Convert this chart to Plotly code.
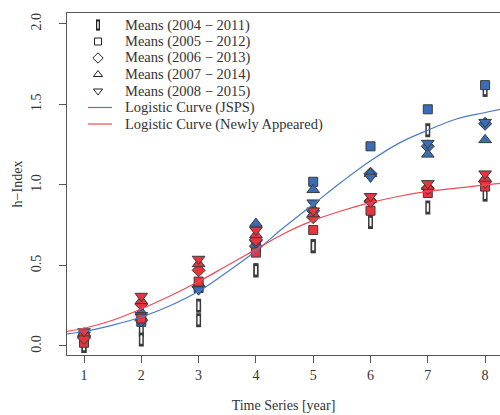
import plotly.graph_objects as go

years = [1, 2, 3, 4, 5, 6, 7, 8]
legend_names = ["Means (2004 − 2011)", "Means (2005 − 2012)", "Means (2006 − 2013)",
                "Means (2007 − 2014)", "Means (2008 − 2015)",
                "Logistic Curve (JSPS)", "Logistic Curve (Newly Appeared)"]

# JSPS (blue)
jsps_0411 = [0.00, 0.10, 0.25, 0.47, 0.62, 0.77, 1.34, 1.59]
jsps_0512 = [0.05, 0.15, 0.36, 0.61, 1.02, 1.24, 1.47, 1.62]
jsps_0613 = [0.06, 0.16, 0.37, 0.62, 0.84, 1.07, 1.24, 1.38]
jsps_0714 = [0.07, 0.21, 0.38, 0.76, 0.97, 1.07, 1.19, 1.28]
jsps_0815 = [0.07, 0.19, 0.35, 0.64, 0.89, 1.05, 1.26, 1.39]

# Newly appeared (red)
new_0411 = [0.00, 0.04, 0.16, 0.47, 0.62, 0.77, 0.86, 0.94]
new_0512 = [0.02, 0.17, 0.40, 0.58, 0.72, 0.84, 0.95, 0.99]
new_0613 = [0.05, 0.26, 0.47, 0.66, 0.80, 0.90, 0.98, 1.02]
new_0714 = [0.08, 0.28, 0.51, 0.69, 0.82, 0.91, 0.99, 1.04]
new_0815 = [0.09, 0.31, 0.54, 0.72, 0.84, 0.93, 1.01, 1.07]

# Logistic curves
curve_x = [0.7, 1.0, 1.5, 2.0, 2.5, 3.0, 3.5, 4.0, 4.5, 5.0, 5.5, 6.0, 6.5, 7.0, 7.5, 8.0, 8.26]
curve_jsps = [0.075, 0.09, 0.13, 0.18, 0.25, 0.34, 0.46, 0.59, 0.74, 0.88, 1.02, 1.15, 1.26, 1.34, 1.41, 1.45, 1.47]
curve_new = [0.09, 0.11, 0.16, 0.23, 0.31, 0.40, 0.50, 0.60, 0.70, 0.78, 0.84, 0.89, 0.93, 0.96, 0.98, 1.00, 1.01]

BLUE = "#3a6db8"
RED = "#e8343f"
BLUE_LINE = "#4a7cc4"
RED_LINE = "#f04a55"
EDGE = "#3a3a3a"
FONT = "Liberation Serif"

fig = go.Figure()

# white narrow rectangles (2004-2011)
for vals in (jsps_0411, new_0411):
    fig.add_trace(go.Scatter(x=years, y=vals, mode="markers", showlegend=False,
                             marker=dict(symbol="line-ns", size=10, line=dict(color=EDGE, width=5))))
    fig.add_trace(go.Scatter(x=years, y=vals, mode="markers", showlegend=False,
                             marker=dict(symbol="line-ns", size=6, line=dict(color="white", width=2))))

symbols = ["square", "diamond", "triangle-up", "triangle-down"]
sizes = [9, 10, 11, 11]
for color, group in ((BLUE, [jsps_0512, jsps_0613, jsps_0714, jsps_0815]),
                     (RED, [new_0512, new_0613, new_0714, new_0815])):
    for sym, sz, vals in zip(symbols, sizes, group):
        fig.add_trace(go.Scatter(x=years, y=vals, mode="markers", showlegend=False,
                                 marker=dict(symbol=sym, size=sz, color=color,
                                             line=dict(color=EDGE, width=1))))

fig.add_trace(go.Scatter(x=curve_x, y=curve_jsps, mode="lines", line_shape="spline",
                         line=dict(color=BLUE_LINE, width=1.2), showlegend=False))
fig.add_trace(go.Scatter(x=curve_x, y=curve_new, mode="lines", line_shape="spline",
                         line=dict(color=RED_LINE, width=1.2), showlegend=False))

# ---- hand-made legend on a hidden overlay axis (0..1 in both directions) ----
PLOT_L, PLOT_R, PLOT_T, PLOT_B = 67, 500, 13, 355
def fx(px):
    return (px - PLOT_L) / (PLOT_R - PLOT_L)
def fy(py):
    return 1 - (py - PLOT_T) / (PLOT_B - PLOT_T)

row_y = [fy(25 + 16.5 * i) for i in range(len(legend_names))]
sym_x = fx(98)
txt_x = fx(123)

# entry 1: narrow rectangle
fig.add_trace(go.Scatter(x=[sym_x], y=[row_y[0]], xaxis="x2", yaxis="y2", mode="markers",
                         showlegend=False, hoverinfo="skip",
                         marker=dict(symbol="line-ns", size=8, line=dict(color="#222", width=4))))
fig.add_trace(go.Scatter(x=[sym_x], y=[row_y[0]], xaxis="x2", yaxis="y2", mode="markers",
                         showlegend=False, hoverinfo="skip",
                         marker=dict(symbol="line-ns", size=5, line=dict(color="white", width=1.5))))
for i, (sym, sz) in enumerate(zip(["square-open", "diamond-open", "triangle-up-open", "triangle-down-open"],
                                  [7, 8, 8, 8])):
    fig.add_trace(go.Scatter(x=[sym_x], y=[row_y[i + 1]], xaxis="x2", yaxis="y2", mode="markers",
                             showlegend=False, hoverinfo="skip",
                             marker=dict(symbol=sym, size=sz, color="#222", line=dict(width=1))))
for i, col in ((5, BLUE_LINE), (6, RED_LINE)):
    fig.add_trace(go.Scatter(x=[fx(88), fx(112)], y=[row_y[i], row_y[i]], xaxis="x2", yaxis="y2",
                             mode="lines", showlegend=False, hoverinfo="skip",
                             line=dict(color=col, width=1.2)))
for i, name in enumerate(legend_names):
    fig.add_annotation(x=txt_x, y=row_y[i], xref="paper", yref="paper", text=name,
                       showarrow=False, xanchor="left", yanchor="middle",
                       font=dict(family=FONT, size=14.5, color="#333"))

fig.update_layout(
    width=500, height=415,
    margin=dict(l=PLOT_L, r=0, t=PLOT_T, b=415 - PLOT_B),
    plot_bgcolor="white", paper_bgcolor="white",
    font=dict(family=FONT, size=13, color="#333"),
    showlegend=False,
    xaxis=dict(range=[0.703, 8.26], tickvals=years, ticks="outside", ticklen=7,
               showgrid=False, zeroline=False, showline=True, linecolor="#555", mirror=True,
               tickcolor="#555", tickfont=dict(size=14), automargin=False,
               title=dict(text="Time Series [year]", font=dict(size=14), standoff=18)),
    yaxis=dict(range=[-0.056, 2.068], tickvals=[0, 0.5, 1.0, 1.5, 2.0], tickformat=".1f",
               ticks="outside", ticklen=7, tickangle=-90, ticklabelstandoff=12,
               showgrid=False, zeroline=False, showline=True, linecolor="#555",
               tickcolor="#555", tickfont=dict(size=14), automargin=False,
               title=dict(text="h−Index", font=dict(size=14), standoff=3)),
    xaxis2=dict(overlaying="x", range=[0, 1], visible=False, fixedrange=True),
    yaxis2=dict(overlaying="y", range=[0, 1], visible=False, fixedrange=True),
)

fig.write_html("out.html", config={"displayModeBar": False},
               post_script="document.body.style.margin='0px';")
